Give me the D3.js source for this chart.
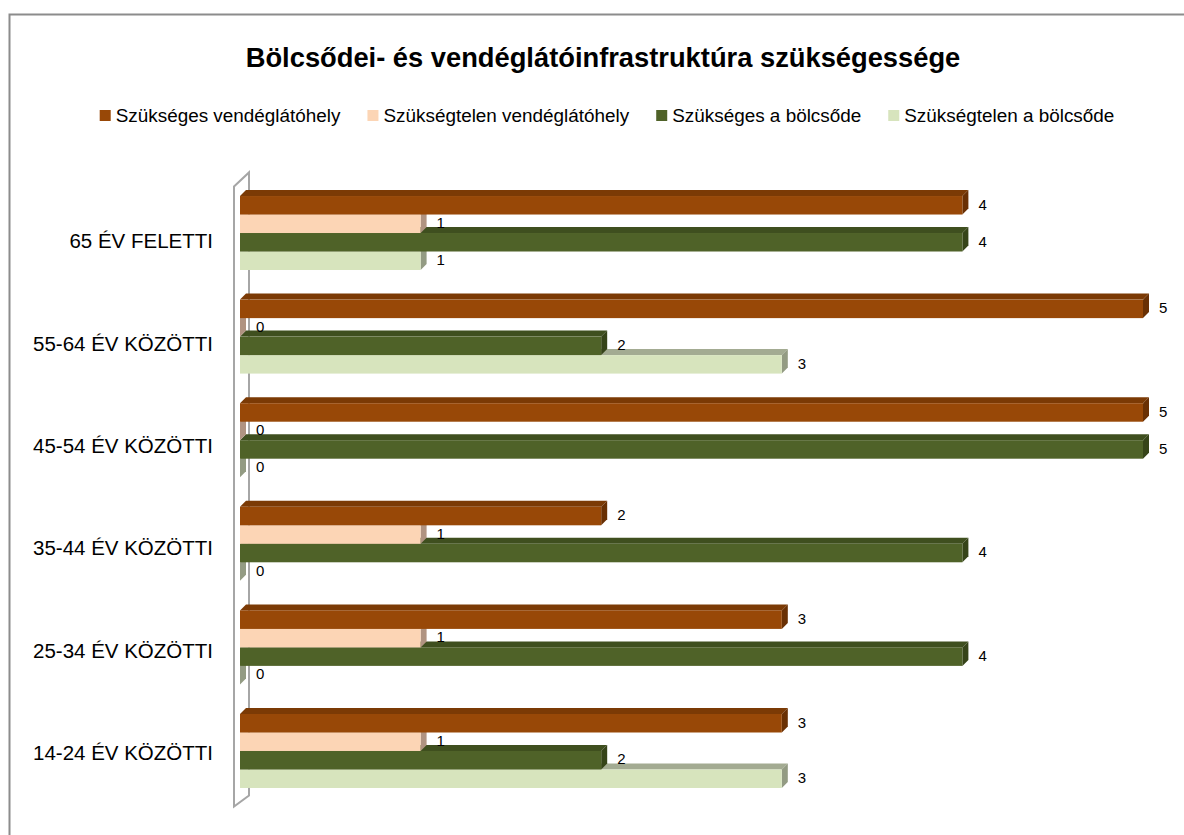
<!DOCTYPE html>
<html>
<head>
<meta charset="utf-8">
<script src="https://cdn.jsdelivr.net/npm/d3@7"></script>
<style>
    body { margin: 0; background: #fff; }
    svg { display: block; font-family: "Liberation Sans", Arial, sans-serif; }
</style>
</head>
<body>
<script>
// Chart data
var categories = ["65 ÉV FELETTI", "55-64 ÉV KÖZÖTTI", "45-54 ÉV KÖZÖTTI",
    "35-44 ÉV KÖZÖTTI", "25-34 ÉV KÖZÖTTI", "14-24 ÉV KÖZÖTTI"];
var seriesNames = ["Szükséges vendéglátóhely", "Szükségtelen vendéglátóhely",
    "Szükséges a bölcsőde", "Szükségtelen a bölcsőde"];
var szuksegesVendeglato = [4, 5, 5, 2, 3, 3];
var szuksegtelenVendeglato = [1, 0, 0, 1, 1, 1];
var szuksegesBolcsode = [4, 2, 5, 4, 4, 2];
var szuksegtelenBolcsode = [1, 3, 0, 0, 0, 3];
var xTicks = [0, 1, 2, 3, 4, 5];

var seriesValues = [szuksegesVendeglato, szuksegtelenVendeglato,
    szuksegesBolcsode, szuksegtelenBolcsode];

// front, top and side face colours for each series
var colors = [
    {front: "#984807", top: "#7b3a05", side: "#693004"},
    {front: "#fcd5b5", top: "#d8b69b", side: "#b09381"},
    {front: "#4f6228", top: "#3f4f1f", side: "#364419"},
    {front: "#d7e4bd", top: "#a3ab92", side: "#939b83"}
];

var W = 1184, H = 835;
var depth = 6;   // 3D offset of the bars

var svg = d3.select("body").append("svg")
    .attr("width", W)
    .attr("height", H);

// outer frame of the chart area
svg.append("rect")
    .attr("x", 9.5).attr("y", 14.5)
    .attr("width", 1250).attr("height", 900)
    .attr("fill", "#fff")
    .attr("stroke", "#8c8c8c")
    .attr("stroke-width", 2);

// Title
svg.append("text")
    .attr("x", 603).attr("y", 67)
    .attr("text-anchor", "middle")
    .attr("font-weight", "bold")
    .attr("font-size", "27.3px")
    .attr("fill", "#000")
    .text("Bölcsődei- és vendéglátóinfrastruktúra szükségessége");

// Scales
var xScale = d3.scaleLinear().domain([0, 5]).range([240, 1143]);
var yScale = d3.scaleBand().domain(categories)
    .range([166.4, 817.6]).paddingInner(0.286).paddingOuter(0.286);
var ySub = d3.scaleBand().domain(d3.range(seriesNames.length))
    .range([0, yScale.bandwidth()]);

// Legend, centred along the top
var legend = svg.append("g").attr("class", "legend");
var items = legend.selectAll("g")
    .data(seriesNames)
    .enter()
    .append("g");
items.append("rect")
    .attr("width", 11).attr("height", 11)
    .attr("y", -12)
    .attr("fill", function(d, i) { return colors[i].front; });
items.append("text")
    .attr("x", 16)
    .attr("font-size", "18.9px")
    .attr("fill", "#000")
    .text(function(d) { return d; });
var xPos = 0, offsets = [];
items.each(function() {
    offsets.push(xPos);
    xPos += 16 + this.querySelector("text").getComputedTextLength() + 27;
});
var legendWidth = xPos - 27;
var legendStart = 607 - legendWidth / 2;
items.attr("transform", function(d, i) {
    return "translate(" + (legendStart + offsets[i]) + ",122)";
});

// The side wall behind the value axis
var x0 = xScale(0);
var yTop = yScale.range()[0], yBot = yScale.range()[1];
svg.append("path")
    .attr("d", "M" + (x0 - 6) + "," + (yTop + 20) +
        "L" + (x0 + 9) + "," + (yTop + 6) +
        "L" + (x0 + 9) + "," + (yBot - 22) +
        "L" + (x0 - 6) + "," + (yBot - 11) + "Z")
    .attr("fill", "#fff")
    .attr("stroke", "#a6a6a6")
    .attr("stroke-width", 2);

// Build a flat list of bars; the lower series are drawn first
var bars = [];
categories.forEach(function(c, ci) {
    for (var s = seriesValues.length - 1; s >= 0; s--) {
        bars.push({cat: c, s: s, value: seriesValues[s][ci]});
    }
});

var barG = svg.selectAll("g.bar")
    .data(bars)
    .enter()
    .append("g")
    .attr("class", "bar");

function yOf(d) { return yScale(d.cat) + ySub(d.s); }

// top face
barG.append("path")
    .attr("d", function(d) {
        var y = yOf(d), x1 = xScale(d.value);
        return "M" + x0 + "," + y + "L" + (x0 + depth) + "," + (y - depth) +
            "L" + (x1 + depth) + "," + (y - depth) + "L" + x1 + "," + y + "Z";
    })
    .attr("fill", function(d) { return colors[d.s].top; });

// side face
barG.append("path")
    .attr("d", function(d) {
        var y = yOf(d), h = ySub.bandwidth(), x1 = xScale(d.value);
        return "M" + x1 + "," + y + "L" + (x1 + depth) + "," + (y - depth) +
            "L" + (x1 + depth) + "," + (y + h - depth) +
            "L" + x1 + "," + (y + h) + "Z";
    })
    .attr("fill", function(d) { return colors[d.s].side; });

// front face
barG.append("rect")
    .attr("x", x0)
    .attr("y", yOf)
    .attr("width", function(d) { return xScale(d.value) - x0; })
    .attr("height", ySub.bandwidth())
    .attr("fill", function(d) { return colors[d.s].front; });

// value labels
barG.append("text")
    .attr("x", function(d) { return xScale(d.value) + depth + 10; })
    .attr("y", function(d) { return yOf(d) + ySub.bandwidth() / 2 - 1; })
    .attr("dy", "0.35em")
    .attr("font-size", "15px")
    .attr("fill", "#000")
    .text(function(d) { return d.value; });

// Category axis on the left, no ticks or domain line
var yAxis = d3.axisLeft(yScale).tickSize(0).tickPadding(27);
svg.append("g")
    .attr("class", "y axis")
    .attr("transform", "translate(" + x0 + ",0)")
    .call(yAxis)
    .call(function(g) { g.select(".domain").remove(); })
    .selectAll("text")
    .attr("font-family", "Liberation Sans, Arial, sans-serif")
    .attr("font-size", "20.5px")
    .attr("fill", "#000")
    .attr("dy", "0.35em")
    .attr("transform", function(d, i) {
        return "translate(0," + (8 - i * 1.2) + ")";
    });
</script>
</body>
</html>
